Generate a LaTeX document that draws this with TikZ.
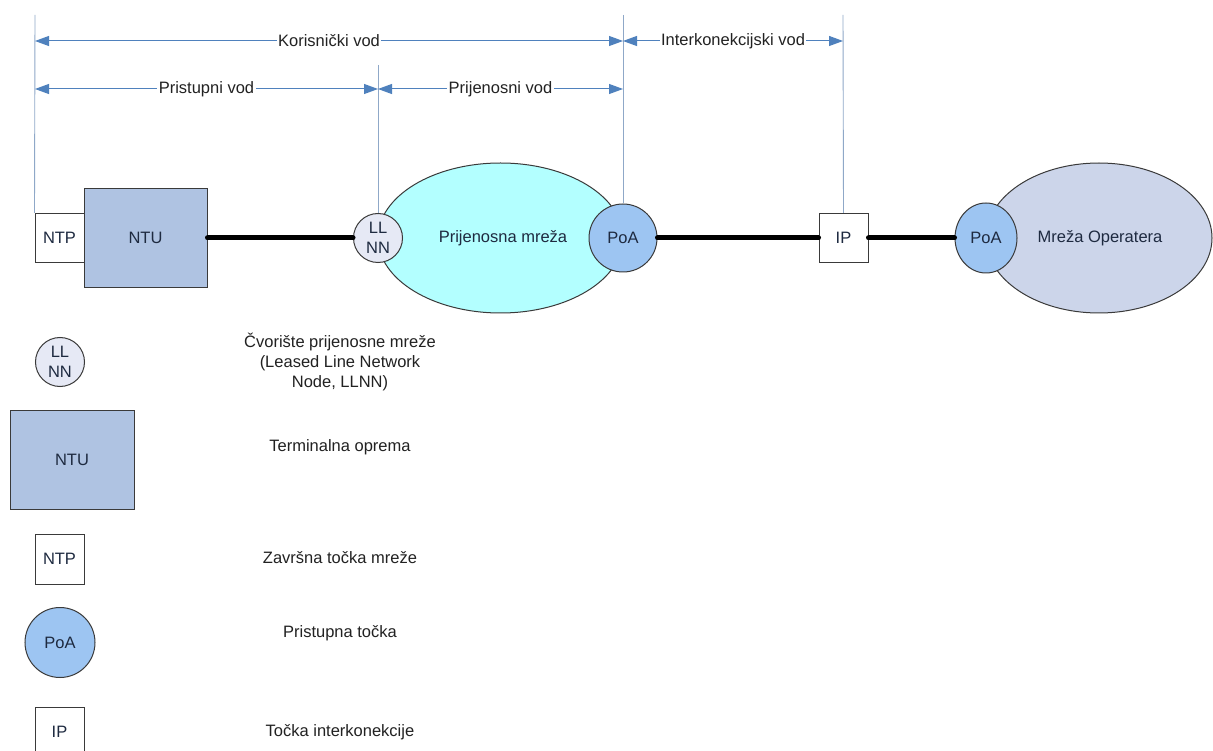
\documentclass[tikz,border=0pt]{standalone}
\usepackage{fontspec}
\setmainfont{Liberation Sans}
\usetikzlibrary{shapes.geometric,arrows.meta}
\definecolor{dimblue}{HTML}{4F81BD}
\definecolor{vlinec}{HTML}{8FA8C8}
\definecolor{ntufill}{HTML}{AFC3E2}
\definecolor{llnnfill}{HTML}{E6E9F5}
\definecolor{cyanfill}{HTML}{B3FFFF}
\definecolor{poafill}{HTML}{9DC5F2}
\definecolor{opfill}{HTML}{CCD5EA}
\definecolor{bordc}{HTML}{3A3A3A}
\definecolor{txtc}{HTML}{222222}
\definecolor{nodetxt}{HTML}{1E2A40}
\tikzset{
  every node/.style={font=\fontsize{16.5}{20}\selectfont, text=txtc},
  boxnode/.style={draw=bordc, line width=1pt, rectangle, inner sep=0pt, text=nodetxt},
  circnode/.style={draw=bordc, line width=1pt, circle, inner sep=0pt, text=nodetxt, align=center},
  ellnode/.style={draw=bordc, line width=1pt, ellipse, inner sep=0pt, text=nodetxt},
  vline/.style={draw=vlinec, line width=0.9pt},
  dimline/.style={draw=dimblue, line width=1pt, {Triangle[length=14pt,width=10pt]}-{Triangle[length=14pt,width=10pt]}},
  dimlabel/.style={fill=white, inner sep=1.5pt, text=txtc},
  thickline/.style={draw=black, line width=5pt, line cap=round},
  legtext/.style={align=center, text=txtc}
}
\begin{document}
\begin{tikzpicture}[x=1pt,y=-1pt]
\useasboundingbox[fill=white] (0,0) rectangle (1213,751);

% main row: networks
\node[ellnode, fill=cyanfill, minimum width=245, minimum height=150] (pmreza) at (500.5,238) {};
\node[ellnode, fill=opfill, minimum width=226, minimum height=150] (omreza) at (1099,238) {};
\node[text=nodetxt] (pmlabel) at (503,238) {Prijenosna mreža};
\node[text=nodetxt] (omlabel) at (1100,238) {Mreža Operatera};

% nodes on the main row
\node[boxnode, fill=white, minimum width=49, minimum height=49] (ntp) at (59.5,238) {NTP};
\node[boxnode, fill=ntufill, minimum width=123, minimum height=99] (ntu) at (145.5,238) {NTU};
\node[circnode, fill=llnnfill, minimum size=49] (llnn) at (378,238) {LL\\NN};
\node[circnode, fill=poafill, minimum size=68] (poa1) at (623,238) {PoA};
\node[boxnode, fill=white, minimum width=49, minimum height=49] (ip) at (843.5,238) {IP};
\node[ellnode, fill=poafill, minimum width=62, minimum height=70] (poa2) at (986,238) {PoA};

% thick links
\draw[thickline] (ntu.east) -- (llnn.west);
\draw[thickline] (poa1.east) -- (ip.west);
\draw[thickline] (ip.east) -- (poa2.west);

% vertical extension lines
\coordinate (t1) at (35,15);
\coordinate (t2) at (378,65);
\coordinate (t3) at (623,15);
\coordinate (t4) at (843,15);
\draw[vline] (t1) -- (ntp.north west);
\draw[vline] (t2) -- (llnn.north);
\draw[vline] (t3) -- (poa1.north);
\draw[vline] (t4) -- (ip.north);

% dimension arrows
\coordinate (a1) at (35,41);
\coordinate (a2) at (623,41);
\coordinate (a3) at (843,41);
\coordinate (b1) at (35,89);
\coordinate (b2) at (378,89);
\coordinate (b3) at (623,89);
\draw[dimline] (a1) -- node[dimlabel] (lkor) {Korisnički vod} (a2);
\draw[dimline] (a2) -- node[dimlabel] (lint) {Interkonekcijski vod} (a3);
\draw[dimline] (b1) -- node[dimlabel] (lpri) {Pristupni vod} (b2);
\draw[dimline] (b2) -- node[dimlabel] (lprij) {Prijenosni vod} (b3);

% legend
\node[circnode, fill=llnnfill, minimum size=49] (lg1) at (60,362) {LL\\NN};
\node[legtext] (lt1) at (340,362) {Čvorište prijenosne mreže\\(Leased Line Network\\Node, LLNN)};
\node[boxnode, fill=ntufill, minimum width=124, minimum height=99] (lg2) at (72,459.5) {NTU};
\node[legtext] (lt2) at (340,447) {Terminalna oprema};
\node[boxnode, fill=white, minimum width=49, minimum height=50] (lg3) at (59.5,559) {NTP};
\node[legtext] (lt3) at (340,558) {Završna točka mreže};
\node[circnode, fill=poafill, minimum size=70] (lg4) at (60,642.5) {PoA};
\node[legtext] (lt4) at (340,633) {Pristupna točka};
\node[boxnode, fill=white, minimum width=49, minimum height=50] (lg5) at (59.5,732) {IP};
\node[legtext] (lt5) at (340,732) {Točka interkonekcije};
\end{tikzpicture}
\end{document}
